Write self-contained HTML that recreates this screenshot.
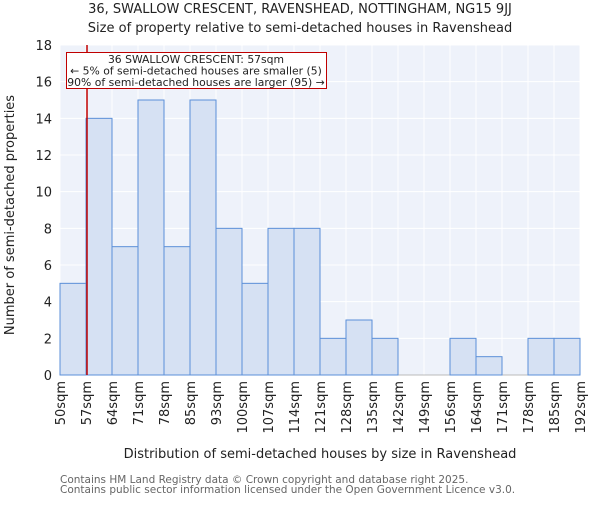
<!DOCTYPE html>
<html><head><meta charset="utf-8"><style>
body{margin:0;background:#fff}
svg text{font-family:"DejaVu Sans","Liberation Sans",sans-serif;fill:#222}
</style></head><body>
<svg id="chart" width="600" height="500" xmlns="http://www.w3.org/2000/svg">
<text x="300" y="13" text-anchor="middle" font-size="13">36, SWALLOW CRESCENT, RAVENSHEAD, NOTTINGHAM, NG15 9JJ</text>
<text x="300" y="32" text-anchor="middle" font-size="13">Size of property relative to semi-detached houses in Ravenshead</text>
<rect x="60" y="45" width="520" height="330" fill="#eef2fa"/>
<g id="grid"></g><g id="bars"></g><g id="yticks"></g><g id="xticks"></g>
<line x1="87" y1="45" x2="87" y2="375" stroke="#c00000" stroke-width="1.5"/>
<g>
<rect x="66.5" y="52.5" width="260" height="36" fill="#fff" stroke="#c00000" stroke-width="1"/>
<text x="196" y="63" text-anchor="middle" font-size="10.8">36 SWALLOW CRESCENT: 57sqm</text>
<text x="196" y="74.5" text-anchor="middle" font-size="10.8">← 5% of semi-detached houses are smaller (5)</text>
<text x="196" y="86" text-anchor="middle" font-size="10.8">90% of semi-detached houses are larger (95) →</text>
</g>
<text transform="translate(14,215) rotate(-90)" text-anchor="middle" font-size="13">Number of semi-detached properties</text>
<text x="320" y="458" text-anchor="middle" font-size="13">Distribution of semi-detached houses by size in Ravenshead</text>
<text x="60" y="483" font-size="10.5" style="fill:#666">Contains HM Land Registry data © Crown copyright and database right 2025.</text>
<text x="60" y="493" font-size="10.5" style="fill:#666">Contains public sector information licensed under the Open Government Licence v3.0.</text>
</svg>
<script>
const categories=["50sqm","57sqm","64sqm","71sqm","78sqm","85sqm","93sqm","100sqm","107sqm","114sqm","121sqm","128sqm","135sqm","142sqm","149sqm","156sqm","164sqm","171sqm","178sqm","185sqm","192sqm"];
const counts=[5,14,7,15,7,15,8,5,8,8,2,3,2,0,0,2,1,0,2,2];
const yTicks=[0,2,4,6,8,10,12,14,16,18];
const NS="http://www.w3.org/2000/svg";
const x0=60,x1=580,yTop=45,yBot=375,yMax=18;
const bw=(x1-x0)/counts.length;
const xs=i=>x0+i*bw;
const ys=v=>yBot-(v/yMax)*(yBot-yTop);
function mk(t,a,p){const e=document.createElementNS(NS,t);for(const k in a)e.setAttribute(k,a[k]);p.appendChild(e);return e;}
const grid=document.getElementById('grid'),bars=document.getElementById('bars'),yt=document.getElementById('yticks'),xt=document.getElementById('xticks');
yTicks.forEach(v=>{
 const l=mk('line',{x1:x0,x2:x1,y1:ys(v),y2:ys(v),stroke:'#fff','stroke-width':1},grid);
 
 
 const t=mk('text',{x:x0-8,y:ys(v)+5,'text-anchor':'end','font-size':13},yt);
 t.textContent=v;
 
 
});
categories.forEach((c,i)=>{
 const l=mk('line',{x1:xs(i),x2:xs(i),y1:yTop,y2:yBot,stroke:'#fff','stroke-width':1},grid);
 
 
 const t=mk('text',{transform:`translate(${xs(i)+5},381) rotate(-90)`,'text-anchor':'end','font-size':13},xt);
 t.textContent=c;
 
 
});
counts.forEach((v,i)=>{
 const r=mk('rect',{x:xs(i),y:ys(v),width:bw,height:yBot-ys(v),fill:'#d6e1f3',stroke:'#5b8fd8','stroke-width':1},bars);
 
 
});
mk('line',{x1:x0,x2:x1,y1:yBot,y2:yBot,stroke:'#bbb','stroke-width':1},grid);
</script>
</body></html>
